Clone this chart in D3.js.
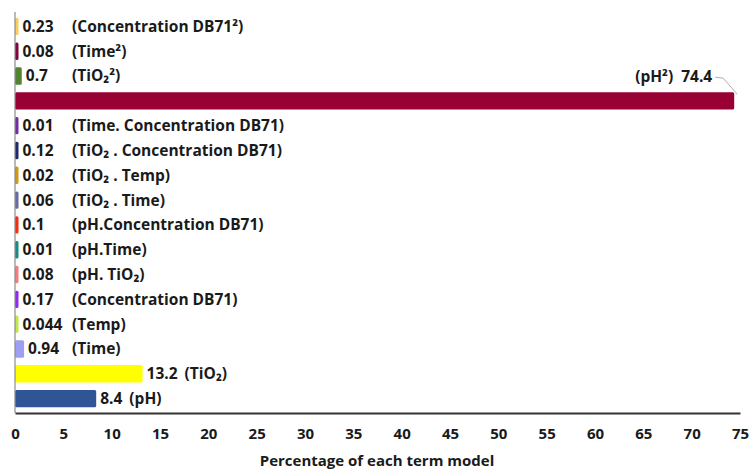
<!DOCTYPE html>
<html>

<head>
  <meta charset="UTF-8" />
  <title>Percentage of each term model</title>
  <style>
    body {
      margin: 0;
      background: #fff;
      font-family: "Open Sans", Arial, sans-serif;
    }

    text {
      font-weight: 700;
      fill: #1a1a1a;
    }
  </style>
  <script src="https://d3js.org/d3.v7.min.js"></script>
</head>

<body>
  <script>
    // terms, top to bottom
    let terms = ["Concentration DB71²", "Time²", "TiO₂²", "pH²", "Time. Concentration DB71",
      "TiO₂ . Concentration DB71", "TiO₂ . Temp", "TiO₂ . Time", "pH.Concentration DB71",
      "pH.Time", "pH. TiO₂", "Concentration DB71", "Temp", "Time", "TiO₂", "pH"],
      values = [0.23, 0.08, 0.7, 74.4, 0.01, 0.12, 0.02, 0.06, 0.1, 0.01, 0.08, 0.17, 0.044, 0.94, 13.2, 8.4],
      valueLabels = ["0.23", "0.08", "0.7", "74.4", "0.01", "0.12", "0.02", "0.06", "0.1", "0.01", "0.08", "0.17", "0.044", "0.94", "13.2", "8.4"],
      colors = ["#f7cf5a", "#7b0a3a", "#548235", "#990033", "#7030a0", "#1f2a6b", "#c99a1c", "#6b6ba3",
        "#f2300f", "#1a8a85", "#f08080", "#8f2cf0", "#c3e84a", "#9e9ef5", "#ffff00", "#2f5597"],
      xTicks = d3.range(0, 80, 5);

    let width = 754, height = 472,
      margin = { top: 14, right: 14, bottom: 59, left: 15 },
      innerW = width - margin.left - margin.right,
      innerH = height - margin.top - margin.bottom;

    let svg = d3.select("body")
      .append("svg")
      .attr("width", width)
      .attr("height", height)
      .style("display", "block");

    let g = svg.append("g")
      .attr("transform", `translate(${margin.left},${margin.top})`);

    let data = terms.map((t, i) => ({ term: t, value: values[i], label: valueLabels[i], color: colors[i] }));

    let x = d3.scaleLinear().domain([0, 75]).range([0, 725]);
    let y = d3.scaleBand().domain(terms).range([0, innerH - 2]).paddingInner(0.3).paddingOuter(0.15);

    /* bars (tiny values get a minimum visible width) */
    g.selectAll(".bar")
      .data(data)
      .enter()
      .append("rect")
      .attr("class", "bar")
      .attr("x", 0)
      .attr("y", d => y(d.term))
      .attr("width", d => Math.max(x(d.value) - x(0), 3.5))
      .attr("height", y.bandwidth())
      .attr("rx", 1.5)
      .attr("fill", d => d.color);

    /* axes */
    g.append("line")
      .attr("x1", 0).attr("x2", 0)
      .attr("y1", -2).attr("y2", innerH)
      .attr("stroke", "#8c8c8c")
      .attr("stroke-width", 1.2);

    let xAxis = g.append("g")
      .attr("transform", `translate(0,${innerH})`)
      .call(d3.axisBottom(x).tickValues(xTicks).tickSize(0).tickPadding(15));
    xAxis.select(".domain").attr("stroke", "#333").attr("stroke-width", 2);
    xAxis.selectAll("text")
      .style("font-family", "'Open Sans', Arial, sans-serif")
      .style("font-size", "15px")
      .style("font-weight", 700)
      .attr("fill", "#1a1a1a");

    svg.append("text")
      .attr("x", margin.left + 362)
      .attr("y", 466)
      .attr("text-anchor", "middle")
      .style("font-size", "15px")
      .text("Percentage of each term model");

    /* labels */
    let fs = "15.5px";
    let labels = g.selectAll(".lbl")
      .data(data.filter(d => d.value < 50))
      .enter()
      .append("g")
      .attr("class", "lbl")
      .attr("transform", d => `translate(0,${y(d.term) + y.bandwidth() / 2})`);

    labels.each(function (d) {
      let sel = d3.select(this);
      let vx = Math.max(x(d.value), 3.5) + 4;
      let vt = sel.append("text")
        .attr("x", vx)
        .attr("dy", "0.35em")
        .style("font-size", fs)
        .text(d.label);
      let end = vx + vt.node().getComputedTextLength();
      let tx = d.value > 5 ? end + 7 : Math.max(57, end + 2);
      sel.append("text")
        .attr("x", tx)
        .attr("dy", "0.35em")
        .style("font-size", fs)
        .text(`(${d.term})`);
    });

    /* the big bar: label placed above its end with a leader line */
    let big = data.find(d => d.value > 50);
    let by = y(big.term);
    let xe = x(big.value);
    let vt = g.append("text")
      .attr("x", xe - 22)
      .attr("y", by - 10)
      .attr("text-anchor", "end")
      .style("font-size", fs)
      .text(big.label);
    g.append("text")
      .attr("x", xe - 22 - vt.node().getComputedTextLength() - 8)
      .attr("y", by - 10)
      .attr("text-anchor", "end")
      .style("font-size", fs)
      .text(`(${big.term})`);
    g.append("polyline")
      .attr("points", [[xe - 19, by - 15], [xe - 11, by - 14], [xe + 3, by + 2]].join(" "))
      .attr("fill", "none")
      .attr("stroke", "#b0b0b0")
      .attr("stroke-width", 1);
  </script>
</body>

</html>
